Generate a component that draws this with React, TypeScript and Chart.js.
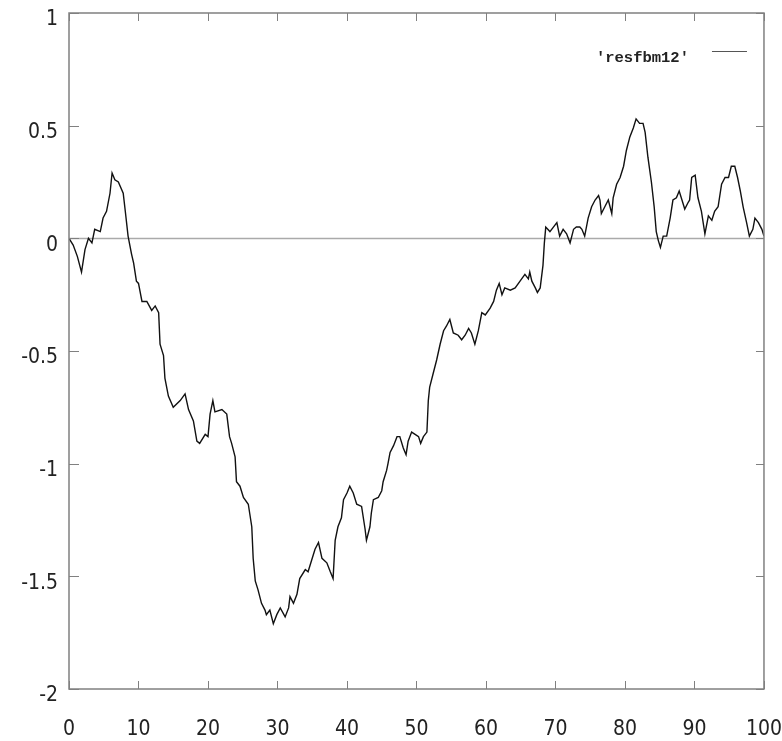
import React, { useEffect, useRef } from "react";
import { Chart, registerables } from "chart.js";

Chart.register(...registerables);

const seriesLabel = "'resfbm12'";

const xs = [
  0, 0.6, 1.2, 1.8, 2.3, 2.8, 3.3, 3.7, 4.5, 4.9, 5.4, 5.9, 6.2, 6.6, 7.1, 7.8, 8.1, 8.5, 9.0, 9.3,
  9.7, 10.0, 10.5, 11.2, 11.9, 12.4, 12.9, 13.1, 13.6, 13.8, 14.3, 15.0, 16.0, 16.7, 17.2, 17.9, 18.4, 18.8, 19.6, 20.0,
  20.3, 20.7, 21.0, 22.0, 22.7, 23.1, 23.4, 23.9, 24.1, 24.6, 25.1, 25.8, 26.0, 26.3, 26.5, 26.8, 27.2, 27.7, 28.2, 28.4,
  28.9, 29.4, 29.9, 30.4, 31.1, 31.6, 31.8, 32.3, 32.8, 33.2, 34.0, 34.4, 34.9, 35.4, 35.9, 36.4, 37.1, 37.6, 38.0, 38.3,
  38.7, 39.2, 39.5, 40.0, 40.4, 40.9, 41.4, 42.1, 42.6, 42.8, 43.3, 43.5, 43.8, 44.5, 45.0, 45.2, 45.7, 45.9, 46.2, 46.7,
  47.2, 47.6, 48.1, 48.5, 48.8, 49.3, 49.8, 50.3, 50.6, 51.0, 51.5, 51.7, 51.9, 52.4, 52.9, 53.4, 53.9, 54.3, 54.8, 55.3,
  56.0, 56.5, 57.0, 57.5, 57.9, 58.4, 58.9, 59.4, 59.9, 60.6, 61.1, 61.5, 61.9, 62.3, 62.7, 63.5, 64.2, 64.9, 65.6, 66.1,
  66.3, 66.6, 67.1, 67.4, 67.8, 68.2, 68.4, 68.6, 69.2, 69.7, 70.2, 70.6, 71.1, 71.6, 72.1, 72.6, 73.0, 73.5, 73.8, 74.2,
  74.7, 75.2, 75.7, 76.2, 76.4, 76.6, 77.1, 77.6, 78.1, 78.3, 78.8, 79.3, 79.8, 80.2, 80.7, 81.2, 81.6, 82.1, 82.6, 82.9,
  83.3, 83.8, 84.2, 84.5, 84.8, 85.1, 85.5, 86.0, 86.5, 86.9, 87.4, 87.8, 88.2, 88.6, 89.1, 89.3, 89.6, 90.1, 90.5, 91.0,
  91.5, 92.0, 92.5, 92.9, 93.4, 93.9, 94.4, 94.9, 95.3, 95.8, 96.2, 96.6, 97.0, 97.5, 97.9, 98.4, 98.7, 99.2, 99.7, 100,
];

const ys = [
  0, -0.03, -0.08, -0.15, -0.05, 0, -0.02, 0.04, 0.03, 0.09, 0.12, 0.2, 0.29, 0.26, 0.25, 0.2, 0.12, 0.01, -0.07, -0.11,
  -0.19, -0.2, -0.28, -0.28, -0.32, -0.3, -0.33, -0.47, -0.52, -0.62, -0.7, -0.75, -0.72, -0.69, -0.76, -0.81, -0.9, -0.91, -0.87, -0.88,
  -0.78, -0.72, -0.77, -0.76, -0.78, -0.88, -0.91, -0.97, -1.08, -1.1, -1.15, -1.18, -1.22, -1.28, -1.42, -1.52, -1.56, -1.62, -1.65, -1.67,
  -1.65, -1.71, -1.67, -1.64, -1.68, -1.64, -1.59, -1.62, -1.58, -1.51, -1.47, -1.48, -1.43, -1.38, -1.35, -1.42, -1.44, -1.48, -1.51, -1.34,
  -1.28, -1.24, -1.16, -1.13, -1.1, -1.13, -1.18, -1.19, -1.29, -1.34, -1.28, -1.22, -1.16, -1.15, -1.12, -1.08, -1.03, -1.0, -0.95, -0.92,
  -0.88, -0.88, -0.93, -0.96, -0.9, -0.86, -0.87, -0.88, -0.91, -0.88, -0.86, -0.72, -0.66, -0.6, -0.54, -0.47, -0.41, -0.39, -0.36, -0.42,
  -0.43, -0.45, -0.43, -0.4, -0.42, -0.47, -0.41, -0.33, -0.34, -0.31, -0.28, -0.23, -0.2, -0.25, -0.22, -0.23, -0.22, -0.19, -0.16, -0.18,
  -0.15, -0.19, -0.22, -0.24, -0.22, -0.12, -0.02, 0.05, 0.03, 0.05, 0.07, 0.01, 0.04, 0.02, -0.02, 0.04, 0.05, 0.05, 0.04, 0.01,
  0.09, 0.14, 0.17, 0.19, 0.17, 0.11, 0.14, 0.17, 0.11, 0.18, 0.24, 0.27, 0.32, 0.39, 0.45, 0.49, 0.53, 0.51, 0.51, 0.47,
  0.36, 0.25, 0.14, 0.03, -0.01, -0.04, 0.01, 0.01, 0.09, 0.17, 0.18, 0.21, 0.17, 0.13, 0.16, 0.17, 0.27, 0.28, 0.18, 0.12,
  0.02, 0.1, 0.08, 0.12, 0.14, 0.24, 0.27, 0.27, 0.32, 0.32, 0.27, 0.21, 0.14, 0.07, 0.01, 0.04, 0.09, 0.07, 0.04, 0.01,
];

const xTickValues = [0, 10, 20, 30, 40, 50, 60, 70, 80, 90, 100];
const xTickLabels = ["0", "10", "20", "30", "40", "50", "60", "70", "80", "90", "100"];
const yTickValues = [1, 0.5, 0, -0.5, -1, -1.5, -2];
const yTickLabels = ["1", "0.5", "0", "-0.5", "-1", "-1.5", "-2"];

const TICK_FONT = "'Liberation Sans Narrow', 'DejaVu Sans Condensed', 'DejaVu Sans', sans-serif";
const FRAME_COLOR = "#808080";

const gnuFrame = {
  id: "gnuFrame",
  beforeDatasetsDraw(chart: any) {
    const { ctx, chartArea, scales } = chart;
    const y0 = Math.round(scales.y.getPixelForValue(0)) + 0.5;
    ctx.save();
    ctx.strokeStyle = "#aaaaaa";
    ctx.lineWidth = 1.5;
    ctx.beginPath();
    ctx.moveTo(chartArea.left, y0);
    ctx.lineTo(chartArea.right, y0);
    ctx.stroke();
    ctx.restore();
  },
  afterDatasetsDraw(chart: any) {
    const { ctx, chartArea, scales } = chart;
    const { left, right, top, bottom } = chartArea;
    ctx.save();
    ctx.strokeStyle = FRAME_COLOR;
    ctx.lineWidth = 1.5;
    ctx.strokeRect(left, top, right - left, bottom - top);
    ctx.beginPath();
    for (const v of xTickValues) {
      const px = Math.round(scales.x.getPixelForValue(v)) + 0.5;
      ctx.moveTo(px, bottom);
      ctx.lineTo(px, bottom - 8);
      ctx.moveTo(px, top);
      ctx.lineTo(px, top + 8);
    }
    for (const v of yTickValues) {
      const py = Math.round(scales.y.getPixelForValue(v)) + 0.5;
      ctx.moveTo(left, py);
      ctx.lineTo(left + 10, py);
      ctx.moveTo(right, py);
      ctx.lineTo(right - 8, py);
    }
    ctx.lineWidth = 1;
    ctx.stroke();
    ctx.restore();
  },
  afterDraw(chart: any) {
    const { ctx, chartArea } = chart;
    ctx.save();
    ctx.font = "bold 15.5px 'Liberation Mono', 'DejaVu Sans Mono', monospace";
    ctx.fillStyle = "#222";
    ctx.textAlign = "right";
    ctx.textBaseline = "middle";
    ctx.fillText(seriesLabel, chartArea.right - 75, chartArea.top + 45);
    ctx.strokeStyle = "#555";
    ctx.lineWidth = 1;
    ctx.beginPath();
    ctx.moveTo(chartArea.right - 52, chartArea.top + 38.5);
    ctx.lineTo(chartArea.right - 17, chartArea.top + 38.5);
    ctx.stroke();
    ctx.restore();
  },
};

export default function App() {
  const canvasRef = useRef<HTMLCanvasElement | null>(null);

  useEffect(() => {
    const canvas = canvasRef.current;
    if (!canvas) return;
    const points = xs.map((x, i) => ({ x, y: ys[i] }));
    const chart = new Chart(canvas, {
      type: "line",
      data: {
        datasets: [
          {
            label: seriesLabel,
            data: points,
            borderColor: "#111",
            borderWidth: 1.4,
            pointRadius: 0,
            tension: 0,
            fill: false,
          },
        ],
      },
      options: {
        animation: false,
        responsive: false,
        maintainAspectRatio: false,
        layout: { padding: { top: 13, right: 18, left: 0, bottom: 0 } },
        plugins: {
          legend: { display: false },
          tooltip: { enabled: false },
        },
        scales: {
          x: {
            type: "linear",
            min: 0,
            max: 100,
            afterFit: (s: any) => {
              s.height = 52;
            },
            afterBuildTicks: (s: any) => {
              s.ticks = xTickValues.map((v) => ({ value: v }));
            },
            grid: {
              display: true,
              drawOnChartArea: false,
              drawTicks: true,
              tickLength: 28,
              color: "rgba(0,0,0,0)",
            },
            border: { display: false },
            ticks: {
              padding: 0,
              color: "#222",
              font: { family: TICK_FONT, size: 21 },
              maxRotation: 0,
              autoSkip: false,
              callback: (v: any) => {
                const i = xTickValues.indexOf(Number(v));
                return i >= 0 ? xTickLabels[i] : "";
              },
            },
          },
          y: {
            type: "linear",
            min: -2,
            max: 1,
            afterFit: (s: any) => {
              s.width = 69;
            },
            afterBuildTicks: (s: any) => {
              s.ticks = yTickValues.map((v) => ({ value: v }));
            },
            grid: {
              display: true,
              drawOnChartArea: false,
              drawTicks: true,
              tickLength: 11,
              color: "rgba(0,0,0,0)",
            },
            border: { display: false },
            ticks: {
              padding: 0,
              labelOffset: 7,
              color: "#222",
              font: { family: TICK_FONT, size: 21 },
              autoSkip: false,
              callback: (v: any) => {
                const i = yTickValues.indexOf(Number(v));
                return i >= 0 ? yTickLabels[i] : "";
              },
            },
          },
        },
      },
      plugins: [gnuFrame],
    });
    return () => chart.destroy();
  }, []);

  return (
    <div style={{ position: "absolute", left: 0, top: 0, width: 782, height: 741, background: "#fff" }}>
      <canvas ref={canvasRef} width={782} height={741} style={{ display: "block" }} />
    </div>
  );
}
